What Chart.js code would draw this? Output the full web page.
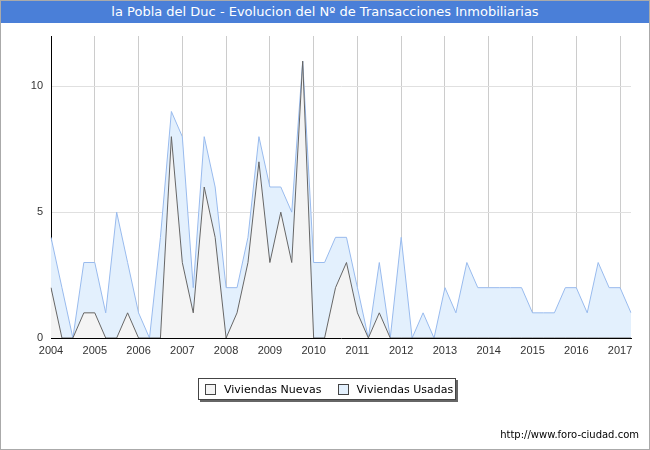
<!DOCTYPE html>
<html><head><meta charset="utf-8">
<script src="https://cdn.jsdelivr.net/npm/chart.js@4/dist/chart.umd.min.js"></script>
<style>
body{margin:0;font-family:Verdana,"DejaVu Sans",sans-serif}
#wrap{position:relative;width:648px;height:448px;border:1px solid #aaa;background:#fff}
#title{position:absolute;left:0;top:0;width:648px;height:22px;background:#4a7fd8;color:#fff;font-size:13px;text-align:center;line-height:22px}
#legend{position:absolute;left:197px;top:377px;width:256px;height:20px;border:1px solid #444;box-shadow:2px 2px 0 #666;font-size:11px;display:flex;align-items:center;background:#fff;white-space:nowrap}
#legend span.b{display:inline-block;flex:none;width:9px;height:9px;border:1px solid #444;margin:0 8px 0 6px}
#foot{position:absolute;right:10px;top:428px;font-size:10px}
canvas{position:absolute;left:0;top:0}
</style></head><body>
<div id="wrap">
<canvas id="c" width="648" height="448"></canvas>
<div id="title">la Pobla del Duc - Evolucion del Nº de Transacciones Inmobiliarias</div>
<div id="legend"><span class="b" style="background:#f4f4f4"></span>Viviendas Nuevas<span class="b" style="background:#e3f0fd;margin-left:16px"></span>Viviendas Usadas</div>
<div id="foot">http://www.foro-ciudad.com</div>
</div>
<script>
const years = [2004,2005,2006,2007,2008,2009,2010,2011,2012,2013,2014,2015,2016,2017];
const nuevas = [2,0,0,1,1,0,0,1,0,0,0,8,3,1,6,4,0,1,3,7,3,5,3,11,0,0,2,3,1,0,1,0,0,0,0,0,0,0,0,0,0,0,0,0,0,0,0,0,0,0,0,0,0,0];
const total = [4,2,0,3,3,1,5,3,1,0,4,9,8,2,8,6,2,2,4,8,6,6,5,11,3,3,4,4,2,0,3,0,4,0,1,0,2,1,3,2,2,2,2,2,1,1,1,2,2,1,3,2,2,1];
const usadas = total.map((t,i) => t - nuevas[i]);
const labels = nuevas.map((_, i) => i % 4 === 0 ? String(years[i/4]) : "");

new Chart(c, {
  type: "line",
  data: {
    labels,
    datasets: [
      { label: "Viviendas Nuevas", data: nuevas, borderColor: "#666", backgroundColor: "#f4f4f4", fill: "origin", borderWidth: 1, pointRadius: 0, tension: 0 },
      { label: "Viviendas Usadas", data: usadas, borderColor: "#99bbee", backgroundColor: "#e3f0fd", fill: "-1", borderWidth: 1, pointRadius: 0, tension: 0 }
    ]
  },
  options: {
    animation: false, responsive: false,
    layout: { padding: { top: 35, right: 18, left: 0, bottom: 0 } },
    plugins: { legend: { display: false }, tooltip: { enabled: false } },
    scales: {
      x: {
        stacked: true, offset: false,
        grid: { color: ctx => ctx.index % 4 === 0 ? "#cccccc" : "rgba(0,0,0,0)", drawTicks: false },
        border: { color: "#000" },
        ticks: { autoSkip: false, maxRotation: 0, color: "#333", font: { size: 11 }, padding: 6 },
        afterFit: s => { s.height = 111; }
      },
      y: {
        stacked: true, min: 0, max: 12,
        grid: { color: ctx => ctx.tick.value % 5 === 0 ? "#e0e0e0" : "rgba(0,0,0,0)", drawTicks: false },
        border: { color: "#000" },
        ticks: { stepSize: 1, color: "#333", font: { size: 11 }, padding: 8, callback: v => v % 5 === 0 ? v : "" },
        afterFit: s => { s.width = 50; }
      }
    }
  }
});
</script>
</body></html>
